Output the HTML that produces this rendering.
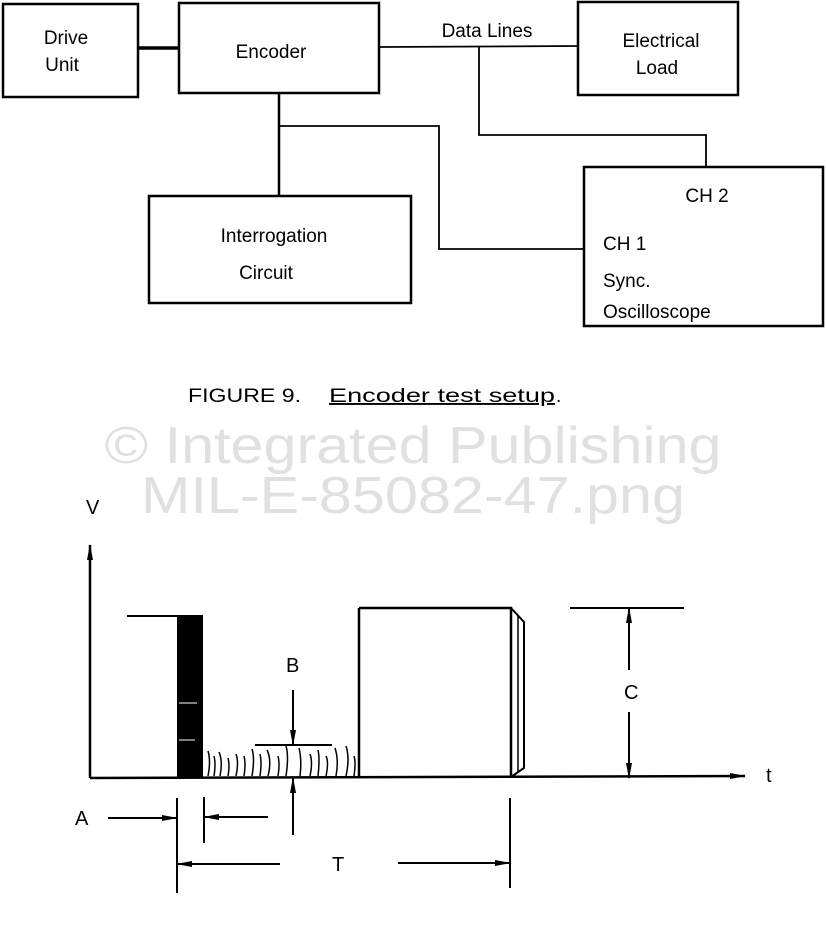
<!DOCTYPE html>
<html><head><style>
body{margin:0;background:#fff}
svg text{font-family:"Liberation Sans",sans-serif;fill:#000}
</style></head><body>
<svg width="826" height="940" viewBox="0 0 826 940" xmlns="http://www.w3.org/2000/svg">
<defs><marker id="ar" markerWidth="16" markerHeight="8" refX="15" refY="4" orient="auto" markerUnits="userSpaceOnUse"><path d="M0,1 L16,4 L0,7 Z" fill="#000"/></marker></defs>
<g fill="none" stroke="#000" stroke-width="2.5">
<rect x="3" y="4" width="135" height="93"/>
<rect x="179" y="3" width="200" height="90"/>
<rect x="578" y="2" width="160" height="93"/>
<rect x="149" y="196" width="262" height="107"/>
<rect x="584" y="167" width="239" height="159"/>
<line x1="138" y1="48" x2="179" y2="48" stroke-width="3.5"/>
<line x1="379" y1="47" x2="578" y2="46" stroke-width="1.8"/>
<polyline points="479,47 479,135 706,135 706,167" stroke-width="1.8"/>
<line x1="279" y1="93" x2="279" y2="196"/>
<polyline points="279,126 439,126 439,249 584,249" stroke-width="1.8"/>
</g>
<g font-size="19">
<text x="66" y="44" text-anchor="middle">Drive</text>
<text x="62" y="71" text-anchor="middle">Unit</text>
<text x="271" y="58" text-anchor="middle">Encoder</text>
<text x="487" y="37" text-anchor="middle">Data Lines</text>
<text x="661" y="47" text-anchor="middle">Electrical</text>
<text x="657" y="74" text-anchor="middle">Load</text>
<text x="274" y="242" text-anchor="middle">Interrogation</text>
<text x="266" y="279" text-anchor="middle">Circuit</text>
<text x="707" y="202" text-anchor="middle">CH 2</text>
<text x="603" y="250">CH 1</text>
<text x="603" y="287">Sync.</text>
<text x="603" y="318">Oscilloscope</text>
<text x="188" y="402" textLength="113" lengthAdjust="spacingAndGlyphs">FIGURE 9.</text>
<text x="329" y="402" textLength="226" lengthAdjust="spacingAndGlyphs" text-decoration="underline">Encoder test setup</text><text x="556" y="402">.</text>
</g>
<g font-size="52" text-anchor="middle">
<text x="413" y="463" textLength="617" lengthAdjust="spacingAndGlyphs" style="fill:#e0e0e0">© Integrated Publishing</text>
<text x="413" y="513" textLength="544" lengthAdjust="spacingAndGlyphs" style="fill:#e0e0e0">MIL-E-85082-47.png</text>
</g>
<g fill="none" stroke="#000" stroke-width="2.5">
<line x1="90" y1="778" x2="90" y2="545" marker-end="url(#ar)"/>
<line x1="90" y1="778" x2="745" y2="776" marker-end="url(#ar)"/>
<line x1="127" y1="616" x2="177" y2="616" stroke-width="2"/>
<line x1="359" y1="778" x2="359" y2="608"/>
<polyline points="359,608 511,608 511,777"/>
<polyline points="511,608 524,622 524,768 511,777" stroke-width="2"/>
<line x1="518" y1="615" x2="518" y2="772" stroke-width="1.5"/>
<line x1="570" y1="608" x2="684" y2="608" stroke-width="2"/>
<line x1="629" y1="670" x2="629" y2="608" marker-end="url(#ar)" stroke-width="2"/>
<line x1="629" y1="712" x2="629" y2="778" marker-end="url(#ar)" stroke-width="2"/>
<line x1="255" y1="745" x2="332" y2="745" stroke-width="2"/>
<line x1="293" y1="690" x2="293" y2="745" marker-end="url(#ar)" stroke-width="2"/>
<line x1="293" y1="835" x2="293" y2="778" marker-end="url(#ar)" stroke-width="2"/>
<path d="M208,776 q3,-15 0,-25 M214,776 q2,-12 0,-20 M220,776 q3,-15 -1,-24 M228,776 q2,-10 0,-18 M236,776 q3,-14 0,-22 M244,776 q2,-12 0,-20 M252,776 q3,-18 0,-27 M260,776 q2,-14 0,-22 M268,776 q4,-16 -1,-26 M278,776 q2,-12 0,-20 M286,776 q3,-20 0,-30 M300,776 q2,-16 -1,-28 M310,776 q3,-14 0,-22 M318,776 q2,-18 0,-26 M326,776 q3,-14 0,-20 M336,776 q3,-16 -1,-28 M346,776 q4,-18 0,-30 M354,776 q2,-14 0,-20" stroke-width="1.5"/>
<line x1="108" y1="818" x2="177" y2="818" marker-end="url(#ar)" stroke-width="2"/>
<line x1="268" y1="817" x2="204" y2="817" marker-end="url(#ar)" stroke-width="2"/>
<line x1="177" y1="798" x2="177" y2="893" stroke-width="2"/>
<line x1="204" y1="797" x2="204" y2="843" stroke-width="2"/>
<line x1="280" y1="864" x2="177" y2="864" marker-end="url(#ar)" stroke-width="2"/>
<line x1="398" y1="863" x2="510" y2="863" marker-end="url(#ar)" stroke-width="2"/>
<line x1="510" y1="798" x2="510" y2="888" stroke-width="2"/>
</g>
<rect x="177" y="615" width="26" height="163" fill="#000"/>
<line x1="179" y1="703" x2="197" y2="703" stroke="#fff" stroke-width="1"/>
<line x1="179" y1="740" x2="195" y2="740" stroke="#fff" stroke-width="1"/>
<g font-size="20">
<text x="86" y="514">V</text>
<text x="766" y="782">t</text>
<text x="286" y="672">B</text>
<text x="624" y="699">C</text>
<text x="75" y="825">A</text>
<text x="332" y="871">T</text>
</g>
</svg>
</body></html>
